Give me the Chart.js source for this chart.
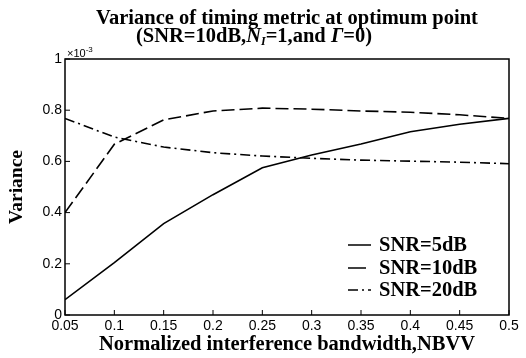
<!DOCTYPE html>
<html>
<head>
<meta charset="utf-8">
<script src="https://cdn.jsdelivr.net/npm/chart.js@4.4.1/dist/chart.umd.min.js"></script>
<style>
  html, body { margin: 0; padding: 0; background: #fff; }
  #wrap { width: 526px; height: 358px; }
</style>
</head>
<body>
<div id="wrap"><canvas id="varChart"></canvas></div>
<script>
// NBW values on x axis
const nbw = [0.05, 0.1, 0.15, 0.2, 0.25, 0.3, 0.35, 0.4, 0.45, 0.5];
// variance, in units of 1e-3
const snr5 = [0.06, 0.205, 0.357, 0.47, 0.575, 0.625, 0.668, 0.716, 0.745, 0.768];
const snr10 = [0.40, 0.667, 0.762, 0.797, 0.808, 0.804, 0.797, 0.792, 0.782, 0.768];
const snr20 = [0.768, 0.695, 0.656, 0.634, 0.621, 0.612, 0.605, 0.601, 0.597, 0.591];
const seriesLabels = ['SNR=5dB', 'SNR=10dB', 'SNR=20dB'];

const serif = '"Liberation Serif", "Times New Roman", serif';
const sans = '"Liberation Sans", Arial, sans-serif';

function toPoints(ys) {
    return nbw.map((x, i) => ({ x: x, y: ys[i] }));
}

// box, inward ticks, title, exponent label and legend
const decorPlugin = {
    id: 'decor',
    afterDraw(chart) {
        const ctx = chart.ctx;
        const a = chart.chartArea;
        const xs = chart.scales.x;
        const ys = chart.scales.y;
        ctx.save();
        ctx.strokeStyle = '#000';
        ctx.lineWidth = 1.5;
        ctx.strokeRect(a.left, a.top, a.right - a.left, a.bottom - a.top);

        ctx.lineWidth = 1;
        ctx.beginPath();
        xs.ticks.forEach(t => {
            const px = xs.getPixelForValue(t.value);
            ctx.moveTo(px, a.bottom);
            ctx.lineTo(px, a.bottom - 5);
        });
        ys.ticks.forEach(t => {
            const py = ys.getPixelForValue(t.value);
            ctx.moveTo(a.left, py);
            ctx.lineTo(a.left + 5, py);
        });
        ctx.stroke();

        ctx.fillStyle = '#000';
        ctx.textBaseline = 'middle';

        // title line 1
        ctx.font = 'bold 20.5px ' + serif;
        ctx.textAlign = 'center';
        ctx.fillText('Variance of timing metric at optimum point', (a.left + a.right) / 2, 19);

        // title line 2 with italic parts
        const big = 'bold 20.5px ' + serif;
        const parts = [
            { t: '(SNR=10dB,', f: big, dy: 0 },
            { t: 'N', f: 'italic ' + big, dy: 0 },
            { t: 'I', f: 'italic bold 12px ' + serif, dy: 5 },
            { t: '=1,and ', f: big, dy: 0 },
            { t: 'Γ', f: 'italic ' + big, dy: 0 },
            { t: '=0)', f: big, dy: 0 }
        ];
        let total = 0;
        parts.forEach(p => { ctx.font = p.f; p.w = ctx.measureText(p.t).width; total += p.w; });
        let x = 254 - total / 2;
        ctx.textAlign = 'left';
        parts.forEach(p => {
            ctx.font = p.f;
            ctx.fillText(p.t, x, 37 + p.dy);
            x += p.w;
        });

        // exponent
        ctx.font = '11px ' + sans;
        ctx.fillText('×10', a.left + 2, a.top - 5);
        const ew = ctx.measureText('×10').width;
        ctx.font = '8px ' + sans;
        ctx.fillText('-3', a.left + 2 + ew, a.top - 9);

        // legend
        const rows = [245, 268, 290];
        chart.data.datasets.forEach((ds, i) => {
            const y = rows[i];
            ctx.strokeStyle = '#000';
            ctx.lineWidth = 1.5;
            ctx.setLineDash(i === 2 ? [10, 4, 2, 4] : []);
            ctx.beginPath();
            ctx.moveTo(348, y);
            ctx.lineTo(i === 1 ? 366 : 371, y);
            ctx.stroke();
            ctx.setLineDash([]);
            ctx.font = big;
            ctx.fillText(ds.label, 379, y + 1);
        });
        ctx.restore();
    }
};

const ctx = document.getElementById('varChart').getContext('2d');
new Chart(ctx, {
    type: 'line',
    data: {
        datasets: [
            {
                label: seriesLabels[0],
                data: toPoints(snr5),
                borderColor: '#000',
                borderWidth: 1.6,
                pointRadius: 0,
                tension: 0
            },
            {
                label: seriesLabels[1],
                data: toPoints(snr10),
                borderColor: '#000',
                borderWidth: 1.6,
                borderDash: [13, 5],
                pointRadius: 0,
                tension: 0
            },
            {
                label: seriesLabels[2],
                data: toPoints(snr20),
                borderColor: '#000',
                borderWidth: 1.6,
                borderDash: [10, 4, 2, 4],
                pointRadius: 0,
                tension: 0
            }
        ]
    },
    options: {
        responsive: true,
        maintainAspectRatio: false,
        animation: false,
        layout: { padding: { top: 59, right: 17, left: 0, bottom: 0 } },
        plugins: {
            legend: { display: false },
            tooltip: { enabled: false }
        },
        scales: {
            x: {
                type: 'linear',
                min: 0.05,
                max: 0.5,
                afterFit(scale) { scale.height = 43; },
                ticks: {
                    stepSize: 0.05,
                    color: '#000',
                    padding: 3,
                    maxRotation: 0,
                    font: { family: sans, size: 14 },
                    callback: v => Number(v.toFixed(2)).toString()
                },
                grid: { drawOnChartArea: false, drawTicks: false },
                border: { display: false },
                title: {
                    display: true,
                    text: 'Normalized interference bandwidth,NBVV',
                    color: '#000',
                    padding: { top: 0, bottom: 1 },
                    font: { family: serif, size: 20.5, weight: 'bold' }
                }
            },
            y: {
                min: 0,
                max: 1,
                afterFit(scale) { scale.width = 65; },
                ticks: {
                    stepSize: 0.2,
                    color: '#000',
                    padding: 3,
                    font: { family: sans, size: 14 },
                    callback: v => Number(v.toFixed(1)).toString()
                },
                grid: { drawOnChartArea: false, drawTicks: false },
                border: { display: false },
                title: {
                    display: true,
                    text: 'Variance',
                    color: '#000',
                    padding: { top: 5, bottom: 0 },
                    font: { family: serif, size: 19.5, weight: 'bold' }
                }
            }
        }
    },
    plugins: [decorPlugin]
});
</script>
</body>
</html>
